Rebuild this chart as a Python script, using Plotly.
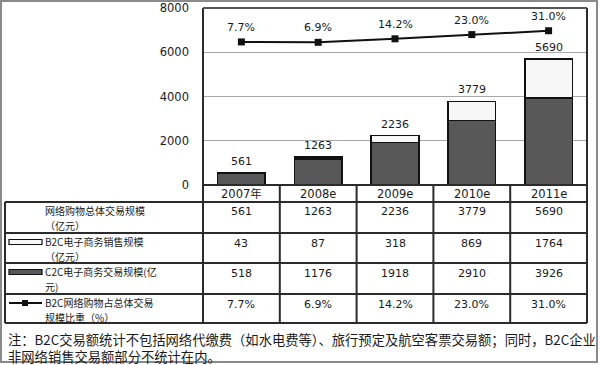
import plotly.graph_objects as go

# ---------------- data ----------------
categories = ["2007年", "2008e", "2009e", "2010e", "2011e"]
total = [561, 1263, 2236, 3779, 5690]
b2c = [43, 87, 318, 869, 1764]
c2c = [518, 1176, 1918, 2910, 3926]
share = [7.7, 6.9, 14.2, 23.0, 31.0]
yticks = [0, 2000, 4000, 6000, 8000]

row_labels = [
    ["网络购物总体交易规模", "（亿元）"],
    ["B2C电子商务销售规模", "（亿元）"],
    ["C2C电子商务交易规模(亿", "元)"],
    ["B2C网络购物占总体交易", "规模比重（%）"],
]
note_lines = [
    "注：B2C交易额统计不包括网络代缴费（如水电费等）、旅行预定及航空客票交易额；同时，B2C企业",
    "非网络销售交易额部分不统计在内。",
]

# ---------------- helpers ----------------
W, H = 600, 365
def px(x):
    return x / W
def py(y):
    return 1 - y / H

NUM = "DejaVu Sans, Noto Sans CJK SC"
CJK = "Noto Sans CJK SC"
INK = "#1a1a1a"
LINE = "#2b2b2b"
DARK = "#585858"
LIGHT = "#f7f7f7"

fig = go.Figure()

fig.add_trace(go.Bar(
    x=categories, y=c2c, name="C2C", width=0.62,
    marker=dict(color=DARK, line=dict(color="#111", width=1.5)),
    hoverinfo="skip",
))
fig.add_trace(go.Bar(
    x=categories, y=b2c, name="B2C", width=0.62,
    marker=dict(color=LIGHT, line=dict(color="#111", width=1.5)),
    hoverinfo="skip",
))
fig.add_trace(go.Scatter(
    x=categories, y=share, yaxis="y2", mode="lines+markers",
    line=dict(color="#111", width=2),
    marker=dict(symbol="square", size=7, color="#111"),
    hoverinfo="skip",
))

annotations = []
shapes = []

# bar total labels
for c, t in zip(categories, total):
    annotations.append(dict(x=c, y=t, xref="x", yref="y", text=str(t),
                            showarrow=False, yanchor="bottom", yshift=3,
                            font=dict(family=NUM, size=11, color=INK)))
# share labels
for c, s in zip(categories, share):
    annotations.append(dict(x=c, y=s, xref="x", yref="y2", text=f"{s:.1f}%",
                            showarrow=False, yanchor="bottom", yshift=6,
                            font=dict(family=NUM, size=11, color=INK)))

# ---------------- table ----------------
row_tops = [202, 233, 263, 294]
table_bottom = 323
header_top = 185

for c in categories:
    annotations.append(dict(x=c, y=py((header_top + row_tops[0]) / 2), xref="x", yref="paper",
                            text=c, showarrow=False, yanchor="middle",
                            font=dict(family=NUM, size=11.5, color=INK)))

row_values = [
    [str(v) for v in total],
    [str(v) for v in b2c],
    [str(v) for v in c2c],
    [f"{v:.1f}%" for v in share],
]
for r, vals in enumerate(row_values):
    ytxt = row_tops[r] + 10
    for c, v in zip(categories, vals):
        annotations.append(dict(x=c, y=py(ytxt), xref="x", yref="paper", text=v,
                                showarrow=False, yanchor="middle",
                                font=dict(family=NUM, size=11, color=INK)))
    l1, l2 = row_labels[r]
    annotations.append(dict(x=px(44), y=py(row_tops[r] + 8.5), xref="paper", yref="paper",
                            text=l1, borderpad=0,
                            showarrow=False, xanchor="left", yanchor="middle",
                            font=dict(family=CJK, size=10, color=INK)))
    annotations.append(dict(x=px(44), y=py(row_tops[r] + 23), xref="paper", yref="paper",
                            text=l2, borderpad=0,
                            showarrow=False, xanchor="left", yanchor="middle",
                            font=dict(family=CJK, size=10, color=INK)))

# legend swatches in the table
sy = row_tops[1] + 9
shapes.append(dict(type="rect", xref="paper", yref="paper", x0=px(9), x1=px(42),
                   y0=py(sy - 2.5), y1=py(sy + 2.5), fillcolor=LIGHT,
                   line=dict(color="#111", width=1.2)))
sy = row_tops[2] + 9
shapes.append(dict(type="rect", xref="paper", yref="paper", x0=px(9), x1=px(42),
                   y0=py(sy - 2.5), y1=py(sy + 2.5), fillcolor=DARK,
                   line=dict(color="#111", width=1.2)))
sy = row_tops[3] + 9
shapes.append(dict(type="line", xref="paper", yref="paper", x0=px(9), x1=px(42),
                   y0=py(sy), y1=py(sy), line=dict(color="#111", width=2)))
shapes.append(dict(type="rect", xref="paper", yref="paper", x0=px(22), x1=px(28),
                   y0=py(sy - 3), y1=py(sy + 3), fillcolor="#111",
                   line=dict(color="#111", width=0)))

# table grid lines
tl = dict(color=LINE, width=2)
shapes.append(dict(type="line", xref="x domain", yref="paper", x0=0, x1=1,
                   y0=py(header_top), y1=py(header_top), line=tl))
for yy in row_tops + [table_bottom]:
    shapes.append(dict(type="line", xref="paper", yref="paper", x0=px(5), x1=px(587),
                       y0=py(yy), y1=py(yy), line=tl))
shapes.append(dict(type="line", xref="paper", yref="paper", x0=px(5), x1=px(5),
                   y0=py(row_tops[0]), y1=py(table_bottom), line=tl))
shapes.append(dict(type="line", xref="x domain", yref="paper", x0=0, x1=0,
                   y0=py(8), y1=py(table_bottom), line=tl))
shapes.append(dict(type="line", xref="x domain", yref="paper", x0=1, x1=1,
                   y0=py(8), y1=py(table_bottom), line=tl))
shapes.append(dict(type="line", xref="x domain", yref="paper", x0=0, x1=1,
                   y0=py(8), y1=py(8), line=dict(color="#555", width=2)))
for i in range(len(categories) - 1):
    shapes.append(dict(type="line", xref="x", yref="paper", x0=i + 0.5, x1=i + 0.5,
                       y0=py(header_top), y1=py(table_bottom), line=tl))

# outer image border
shapes.append(dict(type="rect", xref="paper", yref="paper", x0=px(1), x1=px(597),
                   y0=py(362), y1=py(1), line=dict(color="#8a8a8a", width=2),
                   fillcolor="rgba(0,0,0,0)"))

# note text
annotations.append(dict(x=px(7), y=py(348), xref="paper", yref="paper",
                        text="<br>".join(note_lines), align="left", borderpad=0,
                        showarrow=False, xanchor="left", yanchor="middle",
                        font=dict(family=CJK, size=13.3, color=INK)))

fig.update_layout(
    width=W, height=H,
    margin=dict(l=0, r=0, t=0, b=0),
    paper_bgcolor="white", plot_bgcolor="white",
    barmode="stack", showlegend=False,
    xaxis=dict(domain=[px(203), px(587)], range=[-0.5, 4.5], showticklabels=False,
               showgrid=False, zeroline=False, showline=False, ticks="",
               automargin=False, fixedrange=True),
    yaxis=dict(domain=[py(185), py(8)], range=[0, 8000], tickvals=yticks,
               showgrid=True, gridcolor="#a8a8a8", gridwidth=1, zeroline=False,
               showline=False, ticks="", ticklabelstandoff=13,
               tickfont=dict(family=NUM, size=11.5, color=INK),
               automargin=False, fixedrange=True),
    yaxis2=dict(overlaying="y", range=[-290.4, 78.4], visible=False, fixedrange=True),
    annotations=annotations,
    shapes=shapes,
)

fig.write_html("out.html")
